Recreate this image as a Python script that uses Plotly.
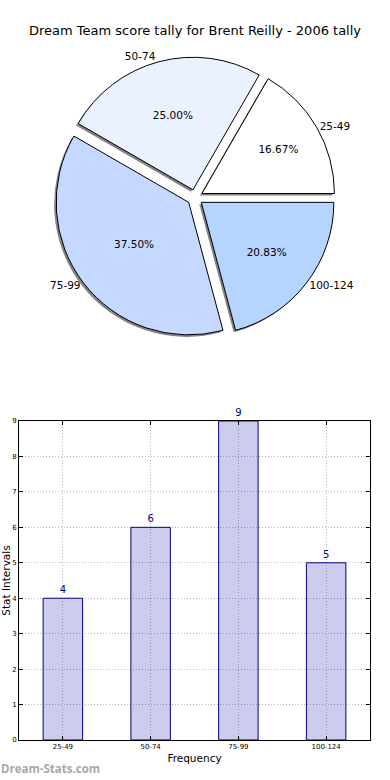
import plotly.graph_objects as go

categories = ["25-49", "50-74", "75-99", "100-124"]
counts = [4, 6, 9, 5]
pie_colors = ["#ffffff", "#ebf2ff", "#c5d8ff", "#b5d4ff"]
title_text = "Dream Team score tally for Brent Reilly - 2006 tally"
y_ticks = list(range(0, 10))

W, H = 390, 780
FONT = "DejaVu Sans"

pie_dom_x = [52 / W, 338 / W]
pie_dom_y = [1 - 338 / H, 1 - 57 / H]
pull = [0.06] * len(counts)
ROT = 30

fig = go.Figure()

# shadow pie
fig.add_trace(go.Pie(
    labels=categories, values=counts, sort=False, direction="counterclockwise",
    rotation=ROT, pull=pull,
    marker=dict(colors=["rgba(90,90,90,0.75)"] * 4, line=dict(width=0)),
    textinfo="none", hoverinfo="skip", showlegend=False,
    domain=dict(x=[pie_dom_x[0] - 2 / W, pie_dom_x[1] - 2 / W],
                y=[pie_dom_y[0] - 2 / H, pie_dom_y[1] - 2 / H]),
))

# main pie with percentages
fig.add_trace(go.Pie(
    labels=categories, values=counts, sort=False, direction="counterclockwise",
    rotation=ROT, pull=pull,
    marker=dict(colors=pie_colors, line=dict(color="black", width=1)),
    texttemplate="%{percent:.2%}", textposition="inside",
    insidetextorientation="horizontal",
    textfont=dict(family=FONT, size=10.5, color="black"),
    showlegend=False, domain=dict(x=pie_dom_x, y=pie_dom_y),
))

# outside labels
fig.add_trace(go.Pie(
    labels=categories, values=counts, sort=False, direction="counterclockwise",
    rotation=ROT, pull=pull,
    marker=dict(colors=["rgba(0,0,0,0)"] * 4, line=dict(width=0)),
    texttemplate="%{label}", textposition="outside",
    outsidetextfont=dict(family=FONT, size=10.5, color="black"),
    hoverinfo="skip", showlegend=False, domain=dict(x=pie_dom_x, y=pie_dom_y),
))

# bar chart
fig.add_trace(go.Bar(
    x=categories, y=counts, width=0.45,
    marker=dict(color="rgba(0,0,170,0.2)", line=dict(color="#000080", width=1)),
    text=[str(c) for c in counts], textposition="outside",
    textfont=dict(family=FONT, size=10, color="#000080"),
    cliponaxis=False, showlegend=False,
    xaxis="x", yaxis="y",
))

fig.update_layout(
    width=W, height=H,
    margin=dict(l=0, r=0, t=0, b=0),
    paper_bgcolor="white", plot_bgcolor="white",
    font=dict(family=FONT, color="black"),
    title=dict(text=title_text, x=0.5, xanchor="center", y=1 - 30 / H,
               yanchor="middle", font=dict(family=FONT, size=13, color="black")),
    xaxis=dict(
        domain=[19 / W, 370 / W], anchor="y", range=[-0.5, 3.5], automargin=False,
        showline=True, linecolor="black", linewidth=1, mirror="ticks",
        ticks="inside", ticklen=4, tickcolor="black",
        showgrid=True, gridcolor="#b8b8b8", griddash="1px,2px", gridwidth=1,
        tickfont=dict(family=FONT, size=7, color="black"),
        title=dict(text="Frequency", font=dict(family=FONT, size=10.5), standoff=4),
        fixedrange=True,
    ),
    yaxis=dict(
        domain=[1 - 740 / H, 1 - 421 / H], anchor="x", range=[0, 9], automargin=False,
        tickvals=y_ticks,
        showline=True, linecolor="black", linewidth=1, mirror="ticks",
        ticks="inside", ticklen=4, tickcolor="black",
        showgrid=True, gridcolor="#b8b8b8", griddash="1px,2px", gridwidth=1,
        zeroline=False,
        tickfont=dict(family=FONT, size=7, color="black"),
        title=dict(text="Stat Intervals", font=dict(family=FONT, size=10.5), standoff=2),
        fixedrange=True,
    ),
    annotations=[dict(
        text="<b>Dream-Stats.com</b>", xref="paper", yref="paper",
        x=-1 / W, y=2 / H, xanchor="left", yanchor="bottom", showarrow=False,
        font=dict(family="Open Sans", size=11.5, color="#a8a8a8"),
    )],
)

fig.write_html(
    "out.html",
    config={"displayModeBar": False},
    post_script="document.body.style.margin='0';document.body.style.padding='0';"
                "document.body.style.overflow='hidden';",
)
